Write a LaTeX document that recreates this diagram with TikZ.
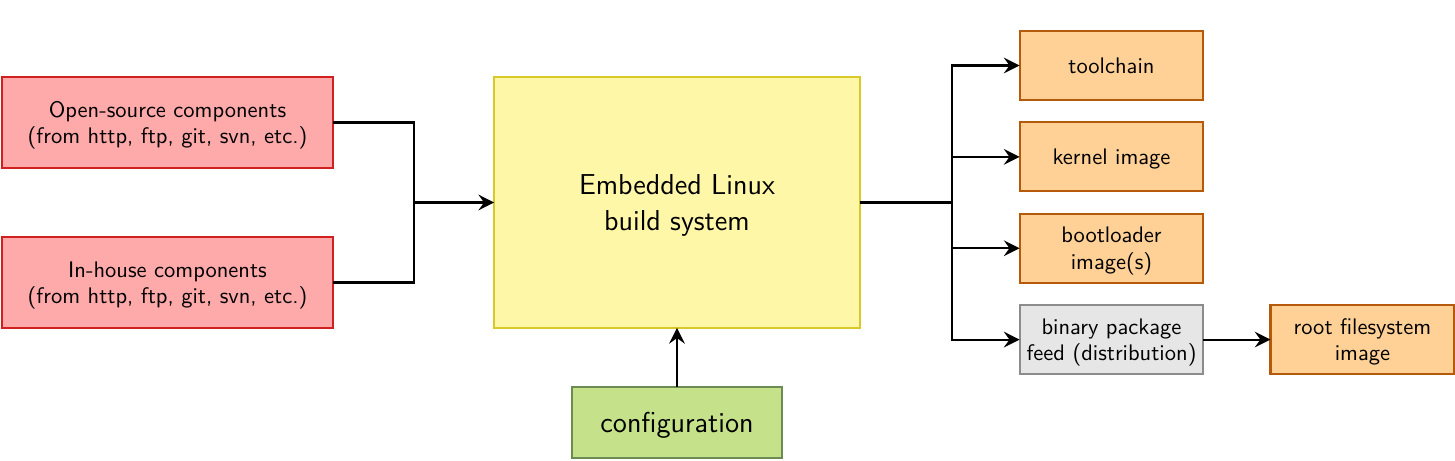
\documentclass[tikz,border=0pt]{standalone}
\usepackage{tikz}
\usetikzlibrary{
    arrows.meta,
    calc,
    positioning
}
\renewcommand{\familydefault}{\sfdefault}
\definecolor{srcfill}{RGB}{255,170,170}
\definecolor{srcdraw}{RGB}{208,32,32}
\definecolor{corefill}{RGB}{255,247,168}
\definecolor{coredraw}{RGB}{216,200,42}
\definecolor{outfill}{RGB}{255,209,150}
\definecolor{outdraw}{RGB}{180,90,10}
\definecolor{feedfill}{RGB}{230,230,230}
\definecolor{feeddraw}{RGB}{140,140,140}
\definecolor{cfgfill}{RGB}{197,226,138}
\definecolor{cfgdraw}{RGB}{108,138,82}
\tikzset{
    every picture/.style = {
        > = {Stealth[length = 7pt, width = 7pt, inset = 2.5pt]},
        line width = 0.9pt
    },
    every node/.style = {
        inner sep = 1pt,
        outer sep = 0pt,
        align = center
    },
    box/.style = {
        draw,
        rectangle,
        line width = 0.9pt,
        font = \fontsize{10}{11.6}\selectfont,
        text depth = -3.4pt
    },
    srcbox/.style  = {box, fill = srcfill, draw = srcdraw,
                      minimum width = 147pt, minimum height = 40.4pt},
    corebox/.style = {box, fill = corefill, draw = coredraw,
                      minimum width = 162.5pt, minimum height = 111.5pt,
                      font = \fontsize{12.8}{15.8}\selectfont,
                      text depth = -4.7pt},
    cfgbox/.style  = {box, fill = cfgfill, draw = cfgdraw,
                      minimum width = 93.2pt, minimum height = 31.5pt,
                      font = \fontsize{12.8}{15.8}\selectfont,
                      text depth = -3.6pt},
    outbox/.style  = {box, fill = outfill, draw = outdraw,
                      minimum width = 81.7pt, minimum height = 30.6pt},
    feedbox/.style = {outbox, fill = feedfill, draw = feeddraw}
}

\begin{document}
\begin{tikzpicture}[x = 0.4444pt, y = -0.4444pt, node distance = 10pt]
    \useasboundingbox (0,0) rectangle (1455,461);

    % inputs and build system
    \node[corebox] (core) at (677,202.5) {Embedded Linux\\build system};
    \node[srcbox] (osrc) at (167.5,122.5) {Open-source components\\(from http, ftp, git, svn, etc.)};
    \node[srcbox] (inhouse) at (167.5,282.5) {In-house components\\(from http, ftp, git, svn, etc.)};
    \node[cfgbox] (config) at (677,422.5) {configuration};

    % outputs
    \node[outbox] (toolchain) at (1111.5,65.5) {toolchain};
    \node[outbox] (kernel) [below = of toolchain] {kernel image};
    \node[outbox] (boot) [below = of kernel] {bootloader\\image(s)};
    \node[feedbox] (feed) [below = of boot] {binary package\\feed (distribution)};
    \node[outbox] (rootfs) [right = 29.8pt of feed] {root filesystem\\image};

    \coordinate (join) at (414,202.5);
    \coordinate (split) at (952,202.5);

    \draw (osrc) -| (join);
    \draw (inhouse) -| (join);
    \draw[->] (join) -- (core);
    \draw[->] (config) -- (core);

    \draw (core) -- (split);
    \draw[->] (split) |- (toolchain);
    \draw[->] (split) |- (kernel);
    \draw[->] (split) |- (boot);
    \draw[->] (split) |- (feed);
    \draw[->] (feed) -- (rootfs);
\end{tikzpicture}
\end{document}
